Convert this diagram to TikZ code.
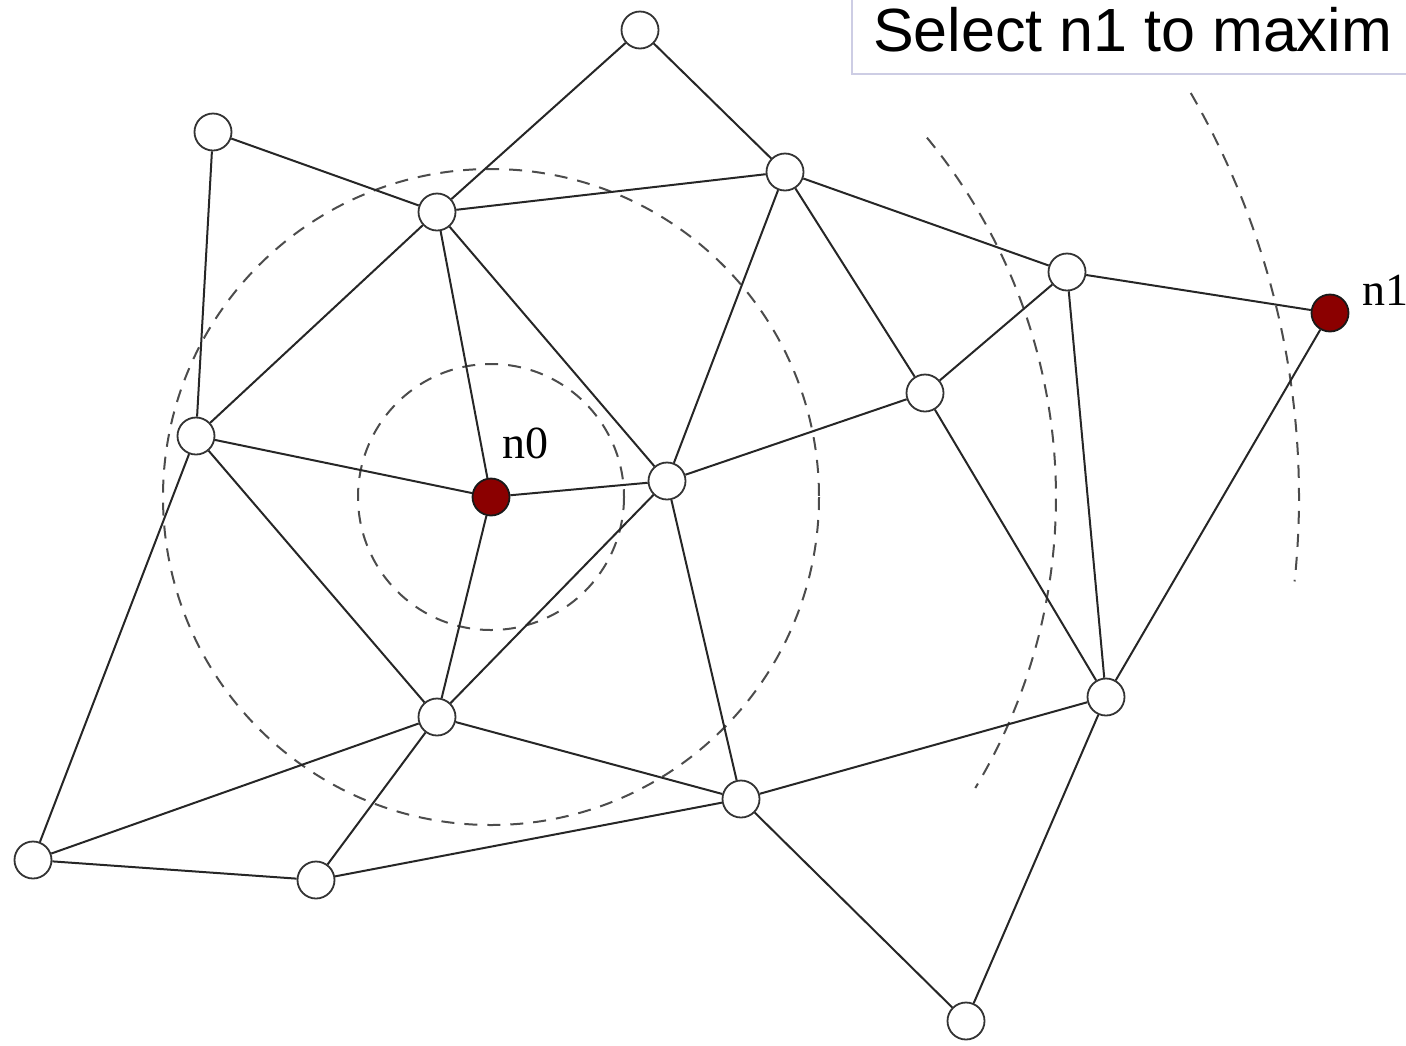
\documentclass[tikz,border=0pt]{standalone}
\usepackage{fontspec}
\usetikzlibrary{calc}
\setmainfont{Liberation Serif}
\newfontfamily\boxfont{Liberation Sans}
\definecolor{hotred}{RGB}{139,0,0}
\definecolor{boxline}{RGB}{205,205,228}
\tikzset{
  vtx/.style={circle, draw=black!80, line width=1.8pt, fill=white,
              minimum size=37pt, inner sep=0pt},
  hot/.style={vtx, fill=hotred, draw=black!90},
  link/.style={line width=2pt, draw=black!85},
  ring/.style={line width=2pt, draw=black!70, dash pattern=on 13pt off 10pt},
  tag/.style={inner sep=0pt, anchor=base west, font=\fontsize{46}{50}\selectfont}
}
\begin{document}
\begin{tikzpicture}[x=1pt, y=-1pt]
  \useasboundingbox (0,0) rectangle (1406,1045);
  \clip (0,0) rectangle (1406,1045);

  % range rings around the source node
  \coordinate (c0) at (491,497);
  \draw[ring] (c0) circle[radius=133];
  \draw[ring] (c0) circle[radius=328];
  \draw[ring] ($(c0)+(-39.5:565)$) arc[start angle=-39.5, end angle=31, radius=565];
  \draw[ring] ($(c0)+(-30:808)$) arc[start angle=-30, end angle=6, radius=808];

  % vertices
  \node[vtx] (A) at (640,30) {};
  \node[vtx] (B) at (213,132) {};
  \node[vtx] (C) at (437,212) {};
  \node[vtx] (D) at (785,172) {};
  \node[vtx] (E) at (1067,272) {};
  \node[hot] (n1) at (1330,313) {};
  \node[vtx] (F) at (925,393) {};
  \node[vtx] (G) at (196,436) {};
  \node[hot] (n0) at (491,497) {};
  \node[vtx] (H) at (667,481) {};
  \node[vtx] (I) at (437,717) {};
  \node[vtx] (J) at (1106,697) {};
  \node[vtx] (K) at (741,799) {};
  \node[vtx] (L) at (33,860) {};
  \node[vtx] (M) at (316,880) {};
  \node[vtx] (N) at (966,1021) {};

  % edges
  \draw[link] (A) -- (C);  \draw[link] (A) -- (D);
  \draw[link] (B) -- (C);  \draw[link] (B) -- (G);
  \draw[link] (C) -- (D);  \draw[link] (C) -- (G);
  \draw[link] (C) -- (n0); \draw[link] (C) -- (H);
  \draw[link] (D) -- (E);  \draw[link] (D) -- (H);
  \draw[link] (D) -- (F);
  \draw[link] (E) -- (n1); \draw[link] (E) -- (F);
  \draw[link] (E) -- (J);
  \draw[link] (F) -- (H);  \draw[link] (F) -- (J);
  \draw[link] (G) -- (n0); \draw[link] (G) -- (I);
  \draw[link] (G) -- (L);
  \draw[link] (n0) -- (H); \draw[link] (n0) -- (I);
  \draw[link] (H) -- (I);  \draw[link] (H) -- (K);
  \draw[link] (I) -- (L);  \draw[link] (I) -- (M);
  \draw[link] (I) -- (K);
  \draw[link] (J) -- (n1); \draw[link] (J) -- (K);
  \draw[link] (J) -- (N);
  \draw[link] (K) -- (M);  \draw[link] (K) -- (N);
  \draw[link] (L) -- (M);

  % labels
  \node[tag] (t0) at (502,458) {n0};
  \node[tag] (t1) at (1362,305) {n1};

  % caption box
  \draw[draw=boxline, line width=1.6pt, fill=white] (852,-20) rectangle (1460,74);
  \node[inner sep=0pt, anchor=base west, font=\boxfont\fontsize{61}{66}\selectfont]
    (cap) at (873,51) {Select n1 to maxim};
\end{tikzpicture}
\end{document}
